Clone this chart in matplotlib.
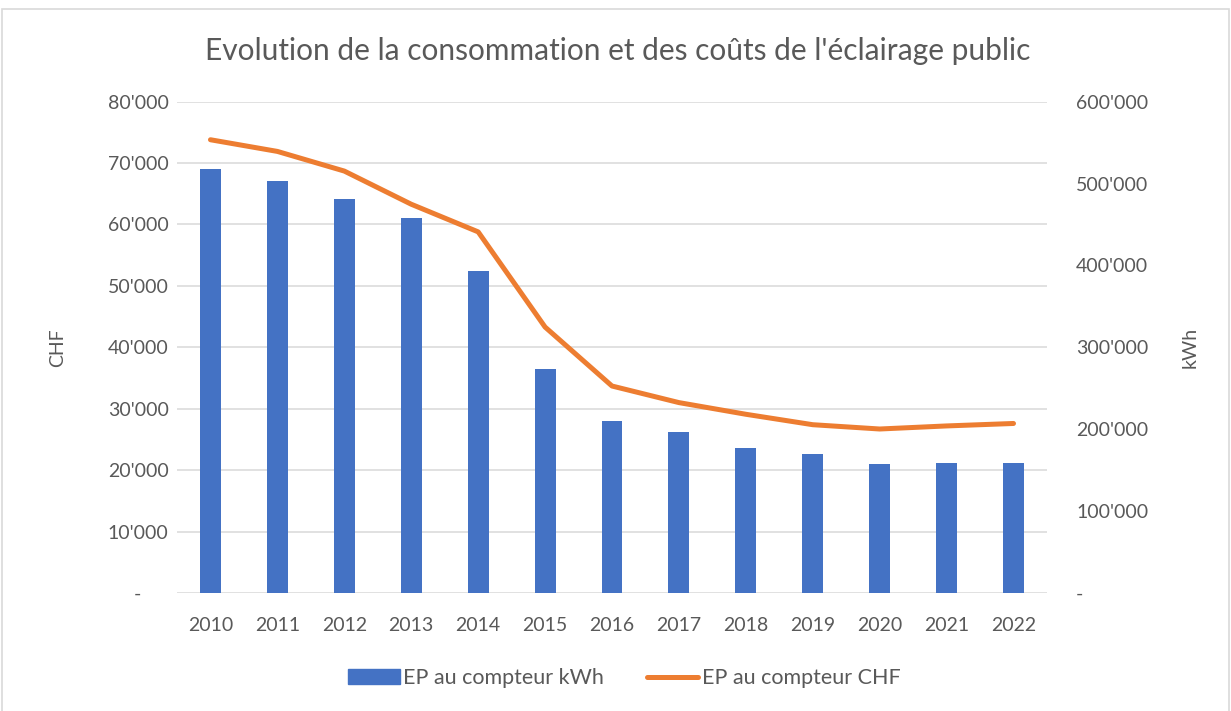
import numpy as np
import matplotlib.pyplot as plt
import matplotlib.transforms as mtransforms
from matplotlib.lines import Line2D
from matplotlib.patches import Patch, Rectangle
from matplotlib.ticker import FuncFormatter

plt.rcParams['font.family'] = ['Lato', 'DejaVu Sans']

# data
years = ['2010', '2011', '2012', '2013', '2014', '2015', '2016',
         '2017', '2018', '2019', '2020', '2021', '2022']
kwh = [517800, 503200, 481000, 458000, 393600, 273000, 209700,
       196600, 176700, 169800, 157500, 158400, 158800]
chf = [73800, 71900, 68700, 63300, 58800, 43300, 33700,
       31000, 29100, 27400, 26700, 27200, 27600]

txt = '#595959'
grid = '#D9D9D9'
blue = '#4472C4'
orange = '#ED7D31'


def swiss(v, pos=None):
    if v == 0:
        return '-'
    return '{:,.0f}'.format(v).replace(',', "'")


fig = plt.figure(figsize=(12.31, 7.11), dpi=100)
ax = fig.add_axes([0.1438, 0.166, 0.7067, 0.691])
ax2 = ax.twinx()

x = np.arange(len(years))

# bars on the right axis (kWh), line on the left axis (CHF)
ax2.bar(x, kwh, width=0.313, color=blue, zorder=2)
ax.plot(x, chf, color=orange, lw=3.6, solid_capstyle='round',
        solid_joinstyle='round', zorder=3)
ax.set_zorder(ax2.get_zorder() + 1)
ax.patch.set_visible(False)

ax.set_xlim(-0.5, len(years) - 0.5)
ax.set_ylim(0, 80000)
ax.set_yticks(np.arange(0, 80001, 10000))
ax2.set_ylim(0, 600000)
ax2.set_yticks(np.arange(0, 600001, 100000))
ax.yaxis.set_major_formatter(FuncFormatter(swiss))
ax2.yaxis.set_major_formatter(FuncFormatter(swiss))

# gridlines follow the CHF axis but must sit behind the bars
for v in np.arange(10000, 80001, 10000):
    ax2.axhline(v * 7.5, color=grid, lw=1.1, zorder=0)
ax2.axhline(0, color=grid, lw=1.1, zorder=1)

for a in (ax, ax2):
    for s in a.spines.values():
        s.set_visible(False)
    a.tick_params(length=0, colors=txt, labelsize=14)

ax.set_xticks(x)
ax.set_xticklabels(years)
ax.tick_params(axis='x', pad=17)
ax.tick_params(axis='y', pad=6)
ax2.tick_params(axis='y', pad=21)

# push the left "-" label in like the reference
fig.canvas.draw()
lab0 = ax.get_yticklabels()[0]
lab0.set_transform(lab0.get_transform() +
                   mtransforms.ScaledTranslation(-0.28, 0, fig.dpi_scale_trans))

ax.set_ylabel('CHF', color=txt, fontsize=14, labelpad=30)
ax2.set_ylabel('kWh', color=txt, fontsize=14, labelpad=24)

fig.text(0.5016, 0.928, "Evolution de la consommation et des coûts de l'éclairage public",
         ha='center', va='center', color=txt, fontsize=21.5)

handles = [Patch(color=blue, label='EP au compteur kWh'),
           Line2D([], [], color=orange, lw=3.6, solid_capstyle='round',
                  label='EP au compteur CHF')]
fig.legend(handles=handles, loc='center', bbox_to_anchor=(0.507, 0.046), ncol=2,
           frameon=False, fontsize=15.5, labelcolor=txt, handlelength=2.4,
           handletextpad=0.15, columnspacing=2.0)

fig.patches.append(Rectangle((0.002, -0.02), 0.996, 1.007, transform=fig.transFigure,
                             fill=False, edgecolor=grid, lw=1.2))

fig.savefig('out.png', dpi=100)
